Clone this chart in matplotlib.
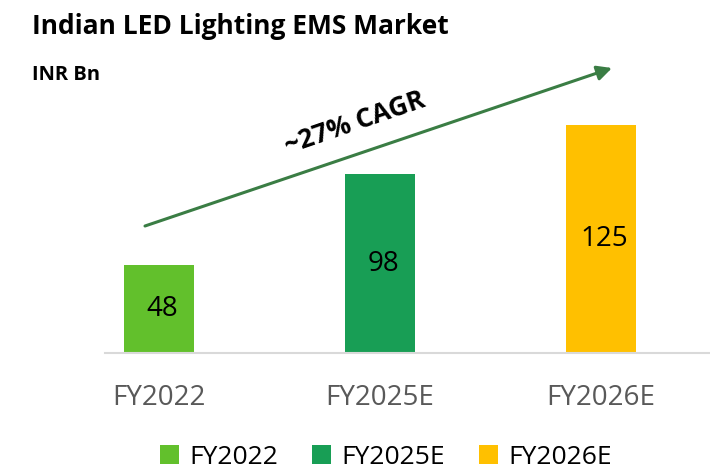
import matplotlib.pyplot as plt

plt.rcParams['font.family'] = ['Open Sans', 'DejaVu Sans']

years = ['FY2022', 'FY2025E', 'FY2026E']
values = [48, 98, 125]
colors = ['#62c02c', '#189e55', '#ffc000']

fig = plt.figure(figsize=(7.1, 4.7), dpi=100)
# axes placed in pixel terms: bottom at y=353 px, top at y=60 px
ax = fig.add_axes([0, 117 / 470, 1, 293 / 470])
k = 1.826  # px per unit

bars = ax.bar(range(3), values, width=70 / 221, color=colors, label=years)
ax.set_ylim(0, 293 / k)
ax.set_xlim(-159 / 221, (710 - 159) / 221)

for s in ['top', 'right', 'left']:
    ax.spines[s].set_visible(False)
ax.spines['bottom'].set_color('#d9d9d9')
ax.spines['bottom'].set_linewidth(1.5)
ax.spines['bottom'].set_bounds((105 - 159) / 221, (710 - 159) / 221)
ax.set_yticks([])
ax.set_xticks(range(3))
ax.set_xticklabels(years, fontsize=20, color='#595959')
ax.tick_params(axis='x', length=0, pad=22)

for i, v in enumerate(values):
    ax.text(i + 0.015, v / 2, str(v), ha='center', va='center', fontsize=20, color='black')

# growth arrow
ax.annotate('', xy=((612 - 159) / 221, (353 - 68) / k),
            xytext=((145 - 159) / 221, (353 - 226) / k),
            arrowprops=dict(arrowstyle='-|>', color='#3a7d44', lw=2.2,
                            mutation_scale=22, shrinkA=0, shrinkB=0))
fig.text(355 / 710, 1 - 123 / 470, '~27% CAGR', rotation=19, fontsize=19,
         fontweight='bold', ha='center', va='center')

fig.text(32 / 710, 1 - 26 / 470, 'Indian LED Lighting EMS Market', fontsize=19,
         fontweight='bold', va='center')
fig.text(32 / 710, 1 - 75 / 470, 'INR Bn', fontsize=14.5, fontweight='bold', va='center')

fig.legend(handles=bars, labels=years, loc='center', bbox_to_anchor=(386 / 710, 1 - 457 / 470),
           ncol=3, frameon=False, fontsize=19, handlelength=0.7, handleheight=0.7,
           handletextpad=0.4, columnspacing=1.3)

fig.savefig('out.png', dpi=100)
